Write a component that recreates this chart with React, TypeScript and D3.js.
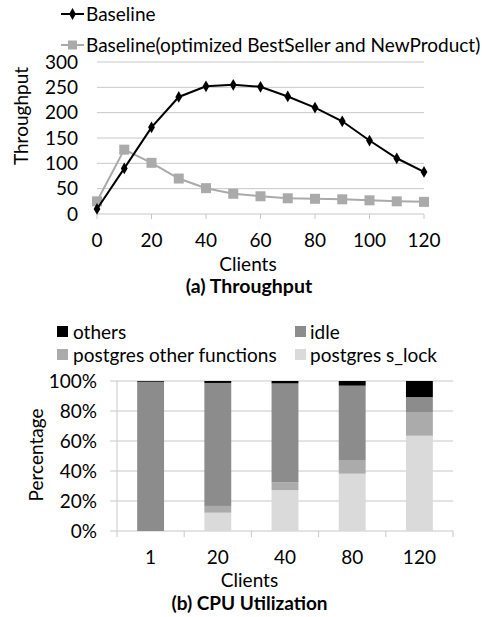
import React from "react";
import * as d3 from "d3";

const clients = [0, 10, 20, 30, 40, 50, 60, 70, 80, 90, 100, 110, 120];
const baseline = [10, 90, 171, 231, 252, 255, 251, 232, 210, 183, 145, 110, 83];
const optimized = [25, 127, 101, 70, 51, 40, 35, 31, 30, 29, 27, 25, 24];
const yTicksA = [0, 50, 100, 150, 200, 250, 300];
const xTicksA = [0, 20, 40, 60, 80, 100, 120];

const cpuClients = ["1", "20", "40", "80", "120"];
const sLock = [0, 12.2, 27.3, 38.2, 63.5];
const otherFns = [0, 4.5, 5.2, 8.7, 15.8];
const idle = [99.5, 82, 65.9, 50, 10];
const others = [0.5, 1.3, 1.6, 3.1, 10.7];
const yTicksB = [0, 20, 40, 60, 80, 100];

const FONT = "Lato, 'Noto Sans', sans-serif";
const FS = 19;
const GRID = "#c8c8c8";
const C_OTHERS = "#000000";
const C_IDLE = "#8c8c8c";
const C_OTHERFN = "#ababab";
const C_SLOCK = "#dadada";

export default function App() {
  // Chart A
  const xA = d3.scaleLinear().domain([0, 120]).range([97, 424]);
  const yA = d3.scaleLinear().domain([0, 300]).range([214, 62]);
  const line = d3
    .line<number>()
    .x((_, i) => xA(clients[i]))
    .y((d) => yA(d));

  // Chart B
  const xB = d3.scaleBand<string>().domain(cpuClients).range([117, 453]).paddingInner(0).paddingOuter(0);
  const yB = d3.scaleLinear().domain([0, 100]).range([531, 381]);
  const barW = xB.bandwidth() * 0.4;
  const series = [
    { name: "postgres s_lock", vals: sLock, color: C_SLOCK },
    { name: "postgres other functions", vals: otherFns, color: C_OTHERFN },
    { name: "idle", vals: idle, color: C_IDLE },
    { name: "others", vals: others, color: C_OTHERS },
  ];
  const stackRows = cpuClients.map((c, i) => {
    let acc = 0;
    return series.map((s) => {
      const y0 = acc;
      acc += s.vals[i];
      return { c, y0, y1: acc, color: s.color };
    });
  });

  const diamond = d3.symbol().type(d3.symbolDiamond).size(40)() as string;

  return (
    <svg width={482} height={617} style={{ display: "block", position: "absolute", left: 0, top: 0 }} fontFamily={FONT}>
      <rect width={482} height={617} fill="#fff" />
      {/* ===== Chart A ===== */}
      {/* legend */}
      <line x1={61} x2={84} y1={14} y2={14} stroke="#000" strokeWidth={2} />
      <path d={diamond} transform="translate(72.5,14)" fill="#000" />
      <text x={86} y={20.5} fontSize={FS} fill="#000">Baseline</text>
      <line x1={61} x2={84} y1={45} y2={45} stroke="#aaa" strokeWidth={2} />
      <rect x={68} y={40.5} width={9} height={9} fill="#aaa" />
      <text x={86} y={51.5} fontSize={FS} fill="#000">Baseline(optimized BestSeller and NewProduct)</text>

      {yTicksA.map((t) => (
        <g key={t}>
          {t > 0 && <line x1={97} x2={424} y1={yA(t)} y2={yA(t)} stroke={GRID} strokeWidth={1} />}
          <text x={78} y={yA(t) + 6.5} textAnchor="end" fontSize={FS}>{t}</text>
        </g>
      ))}
      <line x1={97} x2={424} y1={214} y2={214} stroke={GRID} />
      {xTicksA.map((t) => (
        <g key={t}>
          <line x1={xA(t)} x2={xA(t)} y1={214} y2={219} stroke={GRID} />
          <text x={xA(t)} y={247} textAnchor="middle" fontSize={FS}>{t}</text>
        </g>
      ))}
      <text transform="translate(28,116) rotate(-90)" textAnchor="middle" fontSize={FS}>Throughput</text>
      <text x={248} y={270.5} textAnchor="middle" fontSize={FS}>Clients</text>
      <text x={249} y={293} textAnchor="middle" fontSize={19.5} fontWeight="bold">(a) Throughput</text>

      <path d={line(optimized) || ""} fill="none" stroke="#aaa" strokeWidth={2} />
      {optimized.map((v, i) => (
        <rect key={i} x={xA(clients[i]) - 5} y={yA(v) - 5} width={10} height={10} fill="#aaa" />
      ))}
      <path d={line(baseline) || ""} fill="none" stroke="#000" strokeWidth={2} />
      {baseline.map((v, i) => (
        <path key={i} d={diamond} transform={`translate(${xA(clients[i])},${yA(v)})`} fill="#000" />
      ))}

      {/* ===== Chart B ===== */}
      <rect x={57} y={326} width={11} height={11} fill={C_OTHERS} />
      <text x={73} y={338.5} fontSize={FS}>others</text>
      <rect x={295} y={326} width={11} height={11} fill={C_IDLE} />
      <text x={310} y={338.5} fontSize={FS}>idle</text>
      <rect x={57} y={349} width={11} height={11} fill={C_OTHERFN} />
      <text x={73} y={361.5} fontSize={FS}>postgres other functions</text>
      <rect x={295} y={349} width={11} height={11} fill={C_SLOCK} />
      <text x={310} y={361.5} fontSize={FS}>postgres s_lock</text>

      {yTicksB.map((t) => (
        <g key={t}>
          <line x1={110} x2={453} y1={yB(t)} y2={yB(t)} stroke={GRID} />
          <text x={97} y={yB(t) + 6.5} textAnchor="end" fontSize={FS}>{t}%</text>
        </g>
      ))}
      <line x1={117} x2={117} y1={381} y2={531} stroke={GRID} />
      {[...cpuClients.map((c) => xB(c) as number), 453].map((x, i) => (
        <line key={i} x1={x} x2={x} y1={531} y2={537} stroke={GRID} />
      ))}
      {stackRows.map((segs, i) =>
        segs.map((s, j) =>
          s.y1 - s.y0 > 0 ? (
            <rect
              key={`${i}-${j}`}
              x={(xB(s.c) as number) + (xB.bandwidth() - barW) / 2}
              y={yB(s.y1)}
              width={barW}
              height={yB(s.y0) - yB(s.y1)}
              fill={s.color}
            />
          ) : null
        )
      )}
      {cpuClients.map((c) => (
        <text key={c} x={(xB(c) as number) + xB.bandwidth() / 2} y={564} textAnchor="middle" fontSize={FS}>{c}</text>
      ))}
      <text transform="translate(43,455) rotate(-90)" textAnchor="middle" fontSize={FS}>Percentage</text>
      <text x={249.5} y={587} textAnchor="middle" fontSize={FS}>Clients</text>
      <text x={249.5} y={610} textAnchor="middle" fontSize={FS} fontWeight="bold">(b) CPU Utilization</text>
    </svg>
  );
}
